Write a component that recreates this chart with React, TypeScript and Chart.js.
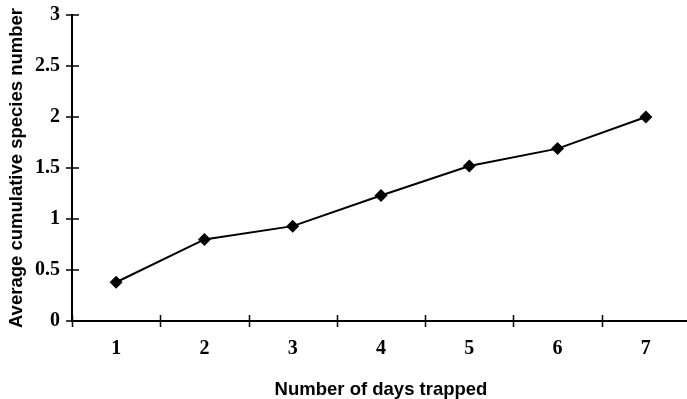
import React, { useEffect, useRef } from "react";
import { Chart, registerables } from "chart.js";

Chart.register(...registerables);

const days = ["1", "2", "3", "4", "5", "6", "7"];
const speciesAvg = [0.38, 0.8, 0.93, 1.23, 1.52, 1.69, 2.0];
const yTicks = [0, 0.5, 1, 1.5, 2, 2.5, 3];
const xTitle = "Number of days trapped";
const yTitle = "Average cumulative species number";

const crossTicks = {
  id: "crossTicks",
  afterDraw(chart: any) {
    const ctx = chart.ctx;
    const xs = chart.scales.x;
    const ys = chart.scales.y;
    const area = chart.chartArea;
    ctx.save();
    ctx.strokeStyle = "#000";
    ctx.lineWidth = 1.5;
    ctx.beginPath();
    for (const v of yTicks) {
      const py = Math.round(ys.getPixelForValue(v));
      ctx.moveTo(area.left - 6, py);
      ctx.lineTo(area.left + 7, py);
    }
    const half = (xs.getPixelForValue(1) - xs.getPixelForValue(0)) / 2;
    for (let i = 0; i <= days.length; i++) {
      const px = Math.round(xs.getPixelForValue(i) - half) + 0.5;
      ctx.moveTo(px, area.bottom - 6);
      ctx.lineTo(px, area.bottom + 6);
    }
    ctx.stroke();
    ctx.restore();
  },
};

export default function App() {
  const ref = useRef<HTMLCanvasElement | null>(null);
  useEffect(() => {
    if (!ref.current) return;
    const chart = new Chart(ref.current, {
      type: "line",
      data: {
        labels: days,
        datasets: [
          {
            data: speciesAvg,
            borderColor: "#000",
            backgroundColor: "#000",
            borderWidth: 2,
            pointStyle: "rectRot",
            pointRadius: 6.5,
            pointBackgroundColor: "#000",
            pointBorderColor: "#000",
            pointBorderWidth: 0,
            tension: 0,
            clip: false as any,
          },
        ],
      },
      options: {
        animation: false,
        responsive: false,
        devicePixelRatio: 1,
        layout: { autoPadding: false, padding: { top: 15, left: 0, right: 0, bottom: 0 } },
        plugins: {
          legend: { display: false },
          tooltip: { enabled: false },
        },
        scales: {
          x: {
            type: "category",
            offset: true,
            grid: { display: false, drawTicks: false, offset: true },
            border: { display: true, color: "#000", width: 2 },
            ticks: {
              color: "#000",
              padding: 16,
              maxRotation: 0,
              autoSkip: false,
              font: { family: "'Liberation Serif', serif", size: 20, weight: "bold" },
            },
            title: {
              display: true,
              text: xTitle,
              color: "#000",
              padding: 0,
              font: { family: "'Liberation Sans', Arial, sans-serif", size: 18.5, weight: "bold", lineHeight: 1 },
            },
            afterFit(scale: any) {
              scale.height = 78;
              scale.paddingLeft = 0;
              scale.paddingRight = 0;
            },
          },
          y: {
            min: 0,
            max: 3,
            grid: { display: false, drawTicks: false },
            border: { display: true, color: "#000", width: 2 },
            afterBuildTicks(scale: any) {
              scale.ticks = yTicks.map((v) => ({ value: v }));
            },
            ticks: {
              color: "#000",
              padding: 12,
              callback: (v: any) => String(v),
              font: { family: "'Liberation Serif', serif", size: 20, weight: "bold" },
            },
            title: {
              display: true,
              text: yTitle,
              color: "#000",
              padding: { top: 8, bottom: 0 },
              font: { family: "'Liberation Sans', Arial, sans-serif", size: 18.5, weight: "bold", lineHeight: 1 },
            },
            afterFit(scale: any) {
              scale.width = 72;
              scale.paddingTop = 0;
              scale.paddingBottom = 0;
            },
          },
        },
      },
      plugins: [crossTicks],
    });
    return () => chart.destroy();
  }, []);
  return (
    <div
      style={{
        position: "fixed",
        left: 0,
        top: 0,
        width: 687,
        height: 399,
        overflow: "hidden",
        background: "#fff",
      }}
    >
      <canvas ref={ref} width={690} height={399} style={{ display: "block", width: 690, height: 399 }} />
    </div>
  );
}
